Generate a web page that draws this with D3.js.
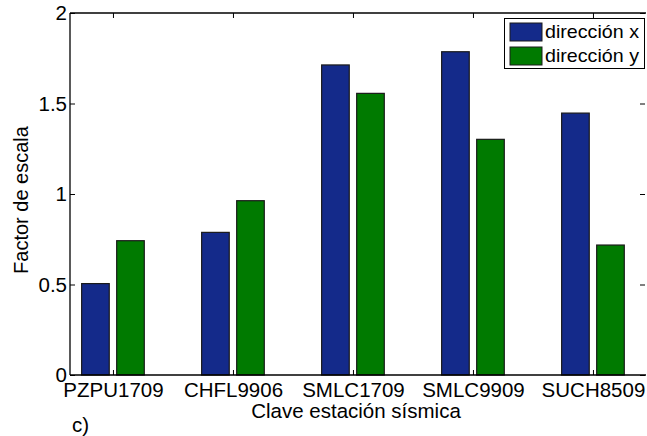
<!DOCTYPE html>
<html><head><meta charset="utf-8">
<script src="https://cdn.jsdelivr.net/npm/d3@7"></script>
<style>body{margin:0;background:#fff}svg{display:block}text{font-family:"Liberation Sans",Arial,sans-serif}</style>
</head><body><svg id="c" width="647" height="436"></svg>
<script>
const categories = ["PZPU1709","CHFL9906","SMLC1709","SMLC9909","SUCH8509"];
const seriesNames = ["dirección x","dirección y"];
const dirX = [0.505, 0.788, 1.713, 1.786, 1.447];
const dirY = [0.742, 0.963, 1.556, 1.302, 0.718];
const yTicks = [0, 0.5, 1, 1.5, 2];
const yTickLabels = ["0","0.5","1","1.5","2"];
const colors = ["#142a8a", "#007a00"];

const FS = 20.5;
const svg = d3.select("#c");
const L = 70, R = 646, T = 13, B = 375;
const x = d3.scaleLinear().domain([-0.358, 4.442]).range([L, R]);
const y = d3.scaleLinear().domain([0, 2]).range([B, T]);
const bw = 0.23, off = 0.146;

const series = [dirX, dirY];
series.forEach((vals, s) => {
  svg.append("g").selectAll("rect").data(vals).join("rect")
    .attr("x", (d, i) => x(i + (s === 0 ? -off : off) - bw / 2))
    .attr("width", x(bw) - x(0))
    .attr("y", d => y(d))
    .attr("height", d => y(0) - y(d))
    .attr("fill", colors[s])
    .attr("stroke", "#1a1a1a").attr("stroke-width", 1.2);
});

// axes frame
const g = svg.append("g").attr("stroke", "#000").attr("fill", "none");
g.append("line").attr("x1", L).attr("x2", L).attr("y1", T).attr("y2", B).attr("stroke-width", 1.3);
g.append("line").attr("x1", L).attr("x2", R).attr("y1", B).attr("y2", B).attr("stroke-width", 1.3);
g.append("line").attr("x1", L).attr("x2", R).attr("y1", T).attr("y2", T).attr("stroke-width", 1.3);

// y axis ticks
const yAxis = d3.axisLeft(y).tickValues(yTicks).tickFormat((d, i) => yTickLabels[i]).tickSize(-5).tickPadding(3);
const ya = svg.append("g").attr("transform", `translate(${L},0)`).call(yAxis);
ya.select(".domain").remove();
ya.selectAll("text").attr("font-size", FS).attr("fill", "#000").attr("font-family", "Liberation Sans, Arial, sans-serif");
ya.selectAll("line").attr("stroke", "#000");
// right side ticks
const yr = svg.append("g").attr("transform", `translate(${R - 1},0)`).call(d3.axisRight(y).tickValues(yTicks).tickSize(-5).tickFormat(""));
yr.select(".domain").remove();
yr.selectAll("line").attr("stroke", "#000");

// x axis ticks
const xa = svg.append("g").attr("transform", `translate(0,${B})`)
  .call(d3.axisBottom(x).tickValues(d3.range(categories.length)).tickFormat(i => categories[i]).tickSize(-5).tickPadding(7));
xa.select(".domain").remove();
xa.selectAll("text").attr("font-size", FS).attr("fill", "#000").attr("font-family", "Liberation Sans, Arial, sans-serif");
xa.selectAll("line").attr("stroke", "#000");
const xt = svg.append("g").attr("transform", `translate(0,${T})`)
  .call(d3.axisTop(x).tickValues(d3.range(categories.length)).tickSize(-5).tickFormat(""));
xt.select(".domain").remove();
xt.selectAll("line").attr("stroke", "#000");

// labels
svg.append("text").attr("x", 356).attr("y", 418).attr("text-anchor", "middle").attr("font-size", FS).text("Clave estación sísmica");
svg.append("text").attr("transform", "translate(28,200) rotate(-90)").attr("text-anchor", "middle").attr("font-size", 20).text("Factor de escala");
svg.append("text").attr("x", 72).attr("y", 432).attr("font-size", FS).text("c)");

// legend
const lg = svg.append("g");
lg.append("rect").attr("x", 504.5).attr("y", 18.5).attr("width", 140).attr("height", 50).attr("fill", "#fff").attr("stroke", "#000").attr("stroke-width", 1);
seriesNames.forEach((n, i) => {
  lg.append("rect").attr("x", 510).attr("y", 23 + i * 24).attr("width", 32).attr("height", 18)
    .attr("fill", colors[i]).attr("stroke", "#1a1a1a").attr("stroke-width", 1);
  lg.append("text").attr("x", 545).attr("y", 37.5 + i * 24).attr("font-size", 19)
    .attr("textLength", 94).attr("lengthAdjust", "spacingAndGlyphs").text(n);
});
</script></body></html>
